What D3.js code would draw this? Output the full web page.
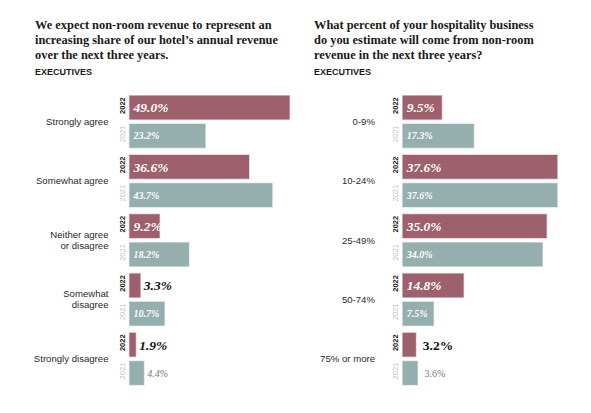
<!DOCTYPE html>
<html>
<head>
<meta charset="utf-8">
<script src="https://cdn.jsdelivr.net/npm/d3@7"></script>
<style>
  body { margin: 0; background: #fff; }
  svg { display: block; }
</style>
</head>
<body>
<svg id="chart" width="591" height="413"></svg>
<script>
// ---- Data ----
const years = ["2022", "2021"];

const leftTitle = ["We expect non-room revenue to represent an",
                   "increasing share of our hotel\u2019s annual revenue",
                   "over the next three years."];
const leftCategories = ["Strongly agree", "Somewhat agree", "Neither agree\nor disagree",
                        "Somewhat\ndisagree", "Strongly disagree"];
const left2022 = [49.0, 36.6, 9.2, 3.3, 1.9];
const left2021 = [23.2, 43.7, 18.2, 10.7, 4.4];

const rightTitle = ["What percent of your hospitality business",
                    "do you estimate will come from non-room",
                    "revenue in the next three years?"];
const rightCategories = ["0-9%", "10-24%", "25-49%", "50-74%", "75% or more"];
const right2022 = [9.5, 37.6, 35.0, 14.8, 3.2];
const right2021 = [17.3, 37.6, 34.0, 7.5, 3.6];

const subtitle = "EXECUTIVES";

// ---- Styles ----
const colors = { "2022": "#9e606c", "2021": "#94afad" };
const serif = "'Liberation Serif', 'Times New Roman', serif";
const sans = "'Liberation Sans', Arial, sans-serif";

const svg = d3.select("#chart");

const y = d3.scaleBand().domain(d3.range(5)).range([95.7, 384.9]).paddingInner(0.123).paddingOuter(0);
const yInner = d3.scaleBand().domain(years).range([0, y.bandwidth()]).paddingInner(0.163);

function panel(opts) {
  const g = svg.append("g");
  const x = d3.scaleLinear().domain([0, opts.max]).range([opts.x0, opts.x0 + opts.pxPerUnit * opts.max]);

  // title
  const t = g.append("text").attr("x", opts.tx).attr("y", 29)
    .attr("font-family", serif).attr("font-weight", "bold").attr("font-size", 12.4)
    .attr("fill", "#1a1a1a");
  opts.title.forEach((line, i) => {
    t.append("tspan").attr("x", opts.tx).attr("y", 29 + i * 15.2).text(line);
  });
  g.append("text").attr("x", opts.tx).attr("y", 75)
    .attr("font-family", sans).attr("font-weight", "bold").attr("font-size", 9)
    .attr("fill", "#1a1a1a").text(subtitle);

  const rows = opts.cats.map((c, i) => ({ cat: c, i, vals: { "2022": opts.v22[i], "2021": opts.v21[i] } }));

  const grp = g.selectAll("g.row").data(rows).join("g").attr("class", "row")
    .attr("transform", d => `translate(0,${y(d.i)})`);

  // category labels
  grp.each(function (d) {
    const lines = d.cat.split("\n");
    const cy = y.bandwidth() / 2;
    const lh = 11;
    const tt = d3.select(this).append("text")
      .attr("text-anchor", "end").attr("font-family", sans).attr("font-size", 9.6)
      .attr("fill", "#2b2b2b");
    lines.forEach((ln, k) => {
      tt.append("tspan").attr("x", opts.labelX)
        .attr("y", cy + (k - (lines.length - 1) / 2) * lh)
        .attr("dy", "0.35em").text(ln);
    });
  });

  years.forEach(yr => {
    const yy = d => yInner(yr);
    // bars
    grp.append("rect")
      .attr("x", x(0))
      .attr("y", yy)
      .attr("width", d => x(d.vals[yr]) - x(0))
      .attr("height", yInner.bandwidth())
      .attr("fill", colors[yr])
      .attr("stroke", colors[yr]).attr("stroke-opacity", 0.35).attr("stroke-width", 1.4);

    // year label (rotated)
    grp.append("text")
      .attr("transform", d => `translate(${opts.yearX},${yInner(yr) + yInner.bandwidth() / 2 - 2}) rotate(-90)`)
      .attr("text-anchor", "middle").attr("dy", "0.35em")
      .attr("font-family", sans).attr("font-size", 7.5)
      .attr("font-weight", yr === "2022" ? "bold" : "normal")
      .attr("fill", yr === "2022" ? "#1a1a1a" : "#bdbdbd")
      .text(yr);

    // value labels
    grp.append("text")
      .each(function (d) {
        const v = d.vals[yr];
        const w = x(v) - x(0);
        const inside = w > 22;
        const sel = d3.select(this);
        sel.attr("x", inside ? x(0) + 4 : x(v) + opts.outGap)
          .attr("y", yInner(yr) + yInner.bandwidth() / 2)
          .attr("dy", "0.36em")
          .attr("font-family", serif)
          .attr("font-weight", yr === "2022" || inside ? "bold" : "normal")
          .attr("font-style", inside || opts.outItalic ? "italic" : "normal")
          .attr("font-size", yr === "2022" ? 13.5 : 10)
          .attr("fill", inside ? "#ffffff" : (yr === "2022" ? "#111" : "#777"))
          .text(v.toFixed(1) + "%");
      });
  });
}

panel({ title: leftTitle, tx: 35, cats: leftCategories, v22: left2022, v21: left2021,
        max: 50, x0: 129.5, pxPerUnit: 3.265, labelX: 108.5, yearX: 122, outGap: 3.5, outItalic: true });
panel({ title: rightTitle, tx: 314, cats: rightCategories, v22: right2022, v21: right2021,
        max: 40, x0: 402.7, pxPerUnit: 4.11, labelX: 375, yearX: 395.5, outGap: 7, outItalic: false });
</script>
</body>
</html>
